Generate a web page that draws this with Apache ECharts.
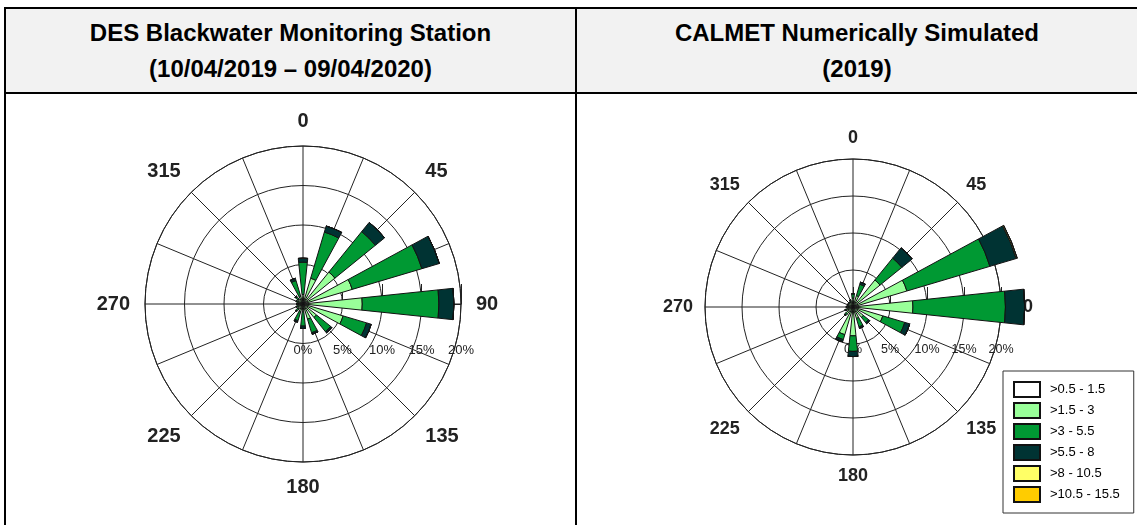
<!DOCTYPE html>
<html><head><meta charset="utf-8">
<script src="https://cdn.jsdelivr.net/npm/echarts@6/dist/echarts.min.js"></script>
<style>
html,body{margin:0;padding:0;background:#fff;}
#wrap{position:relative;width:1137px;height:525px;overflow:hidden;font-family:'Liberation Sans',Arial,sans-serif;}
.hdr{position:absolute;top:9px;height:83px;background:#f2f2f2;}
.line{position:absolute;background:#000;}
.ttl{position:absolute;font-weight:bold;font-size:24px;color:#000;text-align:center;line-height:36px;white-space:nowrap;}
#chart{position:absolute;left:0;top:0;width:1137px;height:525px;}
</style></head>
<body><div id="wrap">
<div class="hdr" style="left:6px;width:569px"></div>
<div class="hdr" style="left:577px;width:560px"></div>
<div class="line" style="left:4px;top:7px;width:1133px;height:2px"></div>
<div class="line" style="left:4px;top:92px;width:1133px;height:2px"></div>
<div class="line" style="left:4px;top:7px;width:2px;height:518px"></div>
<div class="line" style="left:575px;top:7px;width:2px;height:518px"></div>
<div class="ttl" style="left:6px;width:569px;top:15px">DES Blackwater Monitoring Station<br>(10/04/2019 – 09/04/2020)</div>
<div class="ttl" style="left:577px;width:560px;top:15px">CALMET Numerically Simulated<br>(2019)</div>
<div id="chart"></div>
</div>
<script>
// Compass directions (degrees) of the 16 sectors
const directions = [0, 22.5, 45, 67.5, 90, 112.5, 135, 157.5, 180, 202.5, 225, 247.5, 270, 292.5, 315, 337.5];
// Compass tick labels shown on the angle axis
const compassLabels = [0, 45, 90, 135, 180, 225, 270, 315];
// Wind speed classes (m/s)
const speedClasses = ['>0.5 - 1.5', '>1.5 - 3', '>3 - 5.5', '>5.5 - 8', '>8 - 10.5', '>10.5 - 15.5'];
// Radial tick values (%)
const radialTicks = [0, 5, 10, 15, 20];

// DES Blackwater Monitoring Station: frequency (%) per direction, per speed class
const desClass1 = [0.5, 0.5, 0.5, 0.6, 0.6, 0.5, 0.4, 0.4, 0.4, 0.4, 0.4, 0.4, 0.4, 0.4, 0.4, 0.4];
const desClass2 = [0.7, 2.9, 4.7, 5.9, 6.9, 4.8, 1.8, 1.6, 0.6, 0.6, 0.4, 0.3, 0.3, 0.3, 0.4, 0.6];
const desClass3 = [4.1, 6.1, 6.6, 9.2, 9.7, 3.1, 2.3, 1.8, 1.8, 1.2, 0.4, 0.2, 0.1, 0.2, 0.4, 2.1];
const desClass4 = [0.5, 0.8, 1.5, 2.3, 1.9, 0.6, 0.2, 0.2, 0.3, 0.2, 0, 0, 0, 0, 0.1, 0.3];
const desClass5 = [0, 0, 0, 0, 0, 0, 0, 0, 0, 0, 0, 0, 0, 0, 0, 0];
const desClass6 = [0, 0, 0, 0, 0, 0, 0, 0, 0, 0, 0, 0, 0, 0, 0, 0];

// CALMET Numerically Simulated (2019)
const calClass1 = [0.4, 0.4, 0.5, 0.6, 0.6, 0.5, 0.4, 0.4, 0.5, 0.4, 0.4, 0.4, 0.4, 0.4, 0.4, 0.4];
const calClass2 = [0.8, 1.2, 4.2, 7.0, 7.5, 3.7, 1.4, 1.2, 3.4, 3.5, 0.8, 0.5, 0.4, 0.3, 0.3, 0.4];
const calClass3 = [0.6, 1.6, 3.8, 11.7, 12.5, 3.1, 0.9, 1.2, 2.1, 0.7, 0.3, 0.2, 0.1, 0.1, 0.1, 0.2];
const calClass4 = [0, 0.3, 1.8, 3.7, 2.6, 0.7, 0.2, 0.2, 0.7, 0.3, 0, 0, 0, 0, 0, 0];
const calClass5 = [0, 0, 0, 0.15, 0, 0, 0, 0, 0, 0, 0, 0, 0, 0, 0, 0];
const calClass6 = [0, 0, 0, 0, 0, 0, 0, 0, 0, 0, 0, 0, 0, 0, 0, 0];

const classColors = ['#ffffff', '#99ff99', '#009933', '#003333', '#ffff66', '#ffcc00'];
const FONT = "'Liberation Sans', Arial, sans-serif";

// angle axis starts at East (so the radius axis lies along East); compass = value + 90
function toAxisAngle(d) { return (d + 270) % 360; }
function angleLabel(v) {
  const c = Math.round((v + 90) % 360 * 10) / 10;
  return compassLabels.indexOf(c) >= 0 ? String(c) : '';
}

function makeSeries(polarIndex, stack, classes) {
  return classes.map((vals, k) => ({
    type: 'bar', coordinateSystem: 'polar', polarIndex: polarIndex,
    name: speedClasses[k], stack: stack, barWidth: '53%', clip: false,
    itemStyle: { color: classColors[k], borderColor: '#111', borderWidth: 1 },
    emphasis: { disabled: true },
    data: vals.map((v, i) => [v, toAxisAngle(directions[i])]),
    z: 3
  }));
}

function angleAxis(pi, fs, margin) {
  return {
    polarIndex: pi, type: 'value', min: 0, max: 360, interval: 22.5,
    startAngle: 0, clockwise: true,
    axisLine: { show: true, lineStyle: { color: '#222', width: 1 } },
    axisTick: { show: false },
    splitLine: { show: true, lineStyle: { color: '#222', width: 1 } },
    axisLabel: { formatter: angleLabel, fontSize: fs, fontWeight: 'bold', color: '#222',
      margin: margin, fontFamily: FONT }
  };
}
function radiusAxis(pi, fs, margin) {
  return {
    polarIndex: pi, type: 'value', min: radialTicks[0], max: radialTicks[radialTicks.length - 1],
    interval: radialTicks[1] - radialTicks[0],
    axisLine: { show: true, lineStyle: { color: '#222', width: 1 } },
    axisTick: { show: true, inside: true, length: 20, lineStyle: { color: '#222' } },
    splitLine: { show: true, lineStyle: { color: '#222', width: 1 } },
    axisLabel: { formatter: '{value}%', fontSize: fs, color: '#222', margin: margin,
      verticalAlign: 'middle', fontFamily: FONT }
  };
}

const chart = echarts.init(document.getElementById('chart'), null, { renderer: 'canvas' });
chart.setOption({
  animation: false,
  textStyle: { fontFamily: FONT },
  polar: [
    { center: [303, 304], radius: 158 },
    { center: [853, 307], radius: 148 }
  ],
  angleAxis: [angleAxis(0, 20, 15), angleAxis(1, 18, 12)],
  radiusAxis: [radiusAxis(0, 13, -46), radiusAxis(1, 12.5, -43)],
  legend: {
    orient: 'vertical', left: 1003, top: 371, padding: [10, 14, 10, 10],
    itemWidth: 26, itemHeight: 15, itemGap: 4, icon: 'rect',
    borderColor: '#333', borderWidth: 1, backgroundColor: '#fff',
    selectedMode: false, data: speedClasses,
    textStyle: { fontSize: 13, color: '#000', padding: [0, 0, 0, 5], fontFamily: FONT }
  },
  series: [].concat(
    makeSeries(0, 'des', [desClass1, desClass2, desClass3, desClass4, desClass5, desClass6]),
    makeSeries(1, 'cal', [calClass1, calClass2, calClass3, calClass4, calClass5, calClass6])
  )
});
</script>
</body></html>
